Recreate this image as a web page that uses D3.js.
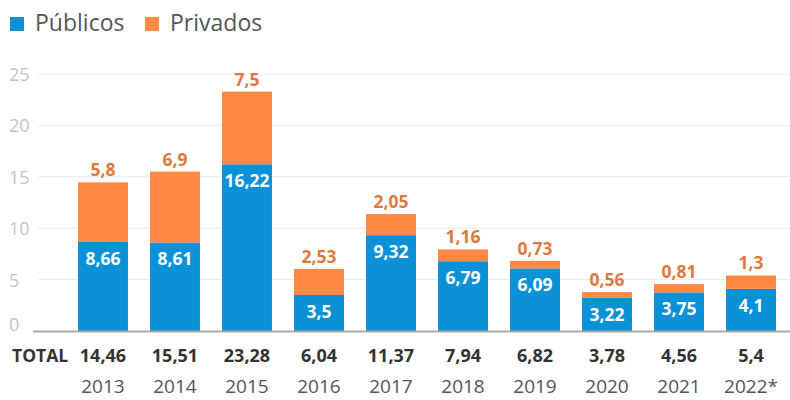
<!DOCTYPE html>
<html>
<head>
    <meta charset="utf-8">
    <title>Públicos e Privados</title>
    <script src="https://cdn.jsdelivr.net/npm/d3@7"></script>
    <style>
        body { margin: 0; background: #fff; }
        text { font-family: 'Open Sans', sans-serif; }
    </style>
</head>
<body>
    <svg width="790" height="400" id="mainsvg"></svg>
    <script>
        const years = ['2013', '2014', '2015', '2016', '2017', '2018', '2019', '2020', '2021', '2022*'];
        const publicos = [8.66, 8.61, 16.22, 3.5, 9.32, 6.79, 6.09, 3.22, 3.75, 4.1];
        const privados = [5.8, 6.9, 7.5, 2.53, 2.05, 1.16, 0.73, 0.56, 0.81, 1.3];
        const totals = [14.46, 15.51, 23.28, 6.04, 11.37, 7.94, 6.82, 3.78, 4.56, 5.4];
        const yTicks = [0, 5, 10, 15, 20, 25];

        const svg = d3.select('svg');
        const blue = '#0a91d8';
        const orange = '#ff8843';
        const fmt = v => String(v).replace('.', ',');

        const x = d3.scaleBand().domain(years).range([60, 794]).paddingInner(0.306).paddingOuter(0.25);
        const y = d3.scaleLinear().domain([0, 25]).range([331, 74]);
        const cx = d => x(d.yr) + x.bandwidth() / 2;

        // grid
        svg.selectAll('.grid').data(yTicks.slice(1)).join('line').attr('class', 'grid')
            .attr('x1', 38).attr('x2', 790).attr('y1', y).attr('y2', y)
            .attr('stroke', '#ececec').attr('stroke-width', 1);
        svg.selectAll('.ytick').data(yTicks).join('text').attr('class', 'ytick')
            .attr('x', 9).attr('y', d => Math.min(y(d) + 7, y(0)))
            .attr('font-size', 18).attr('fill', '#c4c4c4')
            .text(d => d);

        const rows = years.map((yr, i) => ({ yr, pub: publicos[i], pri: privados[i], tot: totals[i] }));

        // the stacked top follows the published total
        svg.selectAll('.pub').data(rows).join('rect').attr('class', 'pub')
            .attr('x', d => x(d.yr)).attr('width', x.bandwidth())
            .attr('y', d => y(d.pub)).attr('height', d => y(0) - y(d.pub)).attr('fill', blue);
        svg.selectAll('.pri').data(rows).join('rect').attr('class', 'pri')
            .attr('x', d => x(d.yr)).attr('width', x.bandwidth())
            .attr('y', d => y(d.tot)).attr('height', d => y(d.pub) - y(d.tot)).attr('fill', orange);

        // baseline
        svg.append('line').attr('x1', 33).attr('x2', 790).attr('y1', y(0) + 0.5).attr('y2', y(0) + 0.5)
            .attr('stroke', '#aaa').attr('stroke-width', 2);

        svg.selectAll('.publab').data(rows).join('text').attr('class', 'publab')
            .attr('x', cx).attr('y', d => y(d.pub) + 23)
            .attr('text-anchor', 'middle').attr('font-size', 17.5).attr('font-weight', 700).attr('fill', '#fff')
            .text(d => fmt(d.pub));
        svg.selectAll('.prilab').data(rows).join('text').attr('class', 'prilab')
            .attr('x', cx).attr('y', d => y(d.tot) - 6)
            .attr('text-anchor', 'middle').attr('font-size', 17.5).attr('font-weight', 700).attr('fill', '#dc7a3e')
            .text(d => fmt(d.pri));

        // totals and years
        svg.append('text').attr('x', 12).attr('y', 362).attr('font-size', 17.5).attr('font-weight', 700)
            .attr('fill', '#333').text('TOTAL');
        svg.selectAll('.tot').data(rows).join('text').attr('class', 'tot')
            .attr('x', cx).attr('y', 362)
            .attr('text-anchor', 'middle').attr('font-size', 18).attr('font-weight', 700).attr('fill', '#333')
            .text(d => fmt(d.tot));
        svg.selectAll('.yr').data(rows).join('text').attr('class', 'yr')
            .attr('x', cx).attr('y', 393)
            .attr('text-anchor', 'middle').attr('font-size', 19).attr('fill', '#555')
            .text(d => d.yr);

        // legend
        const legend = [{ name: 'Públicos', color: blue, x: 10 }, { name: 'Privados', color: orange, x: 145 }];
        svg.selectAll('.lgsq').data(legend).join('rect').attr('class', 'lgsq')
            .attr('x', d => d.x).attr('y', 17).attr('width', 14).attr('height', 14).attr('fill', d => d.color);
        svg.selectAll('.lgtx').data(legend).join('text').attr('class', 'lgtx')
            .attr('x', d => d.x + 25).attr('y', 31).attr('font-size', 23).attr('fill', '#555')
            .text(d => d.name);
    </script>
</body>
</html>
